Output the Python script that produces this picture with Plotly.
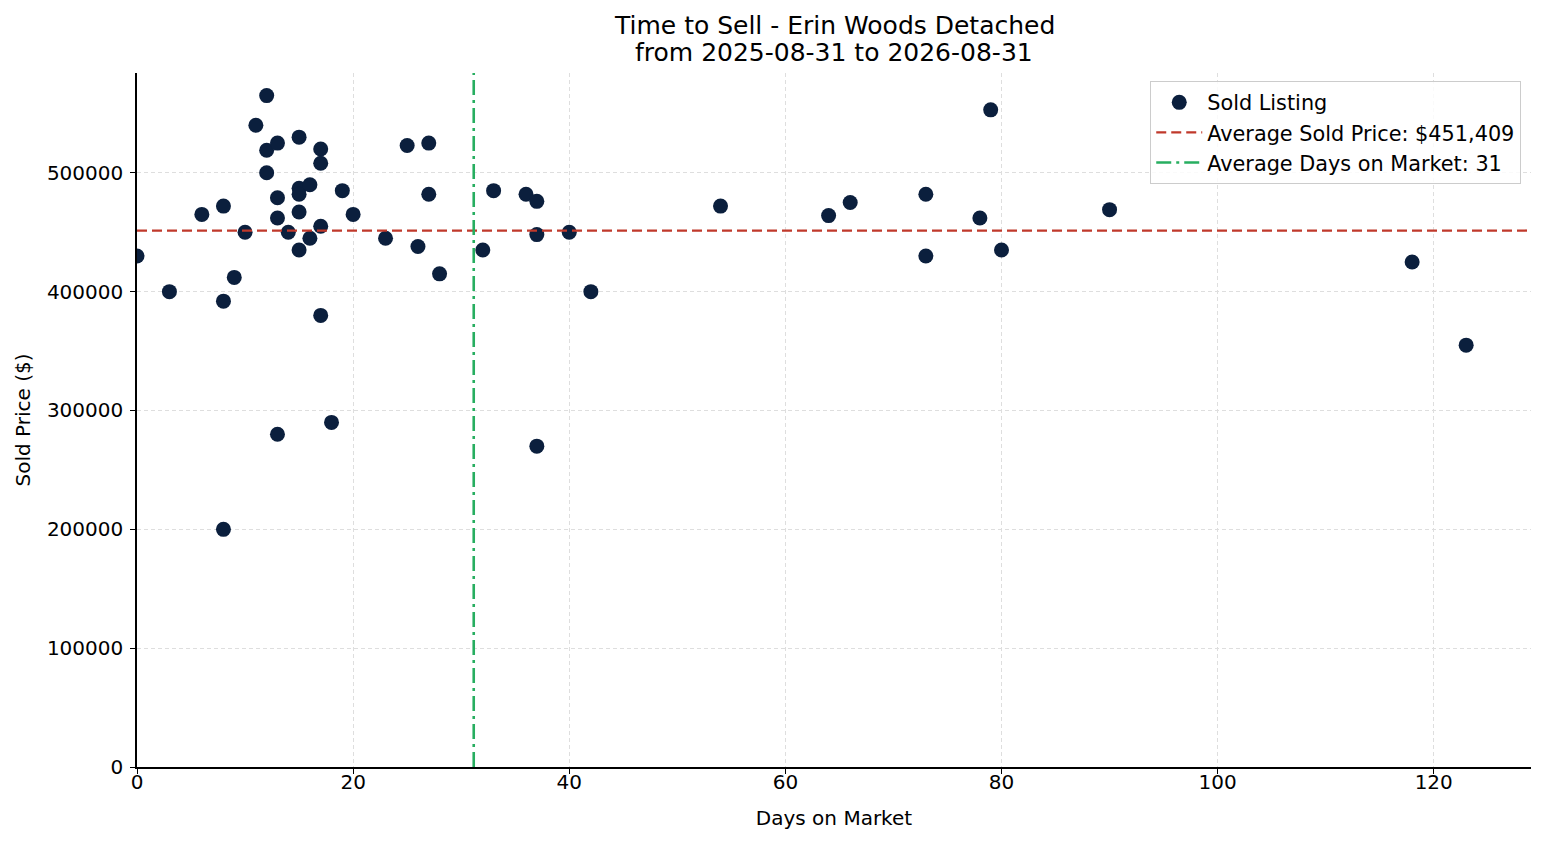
import numpy as np
import plotly.graph_objects as go

# days on market / sold price
days = [0, 3, 6, 8, 8, 8, 9, 10, 11, 12, 12, 12, 13, 13, 13, 13, 14,
        15, 15, 15, 15, 15, 16, 16, 17, 17, 17, 17, 18, 19, 20, 23, 25, 26,
        27, 27, 28, 32, 33, 36, 37, 37, 37, 40, 42, 54, 64, 66, 73, 73,
        78, 79, 80, 90, 118, 123]
prices = [430000, 400000, 465000, 472000, 392000, 200000, 412000, 450000, 540000,
          565000, 519000, 500000, 525000, 479000, 462000, 280000, 450000,
          530000, 487000, 482000, 467000, 435000, 490000, 445000,
          520000, 508000, 455000, 380000, 290000, 485000, 465000, 445000,
          523000, 438000, 525000, 482000, 415000, 435000, 485000, 482000,
          476000, 448000, 270000, 450000, 400000, 472000, 464000, 475000,
          482000, 430000, 462000, 553000, 435000, 469000, 425000, 355000]

avg_price = 451409
avg_days = np.mean(days)

x_range = [0, 129]
y_range = [0, 584000]

fig = go.Figure()

fig.add_trace(go.Scatter(
    x=days, y=prices, mode="markers", name="Sold Listing",
    marker=dict(color="#0b1f3d", size=15, line=dict(width=0)),
))

# average lines
fig.add_trace(go.Scatter(
    x=x_range, y=[avg_price, avg_price], mode="lines",
    name=f"Average Sold Price: ${avg_price:,}",
    line=dict(color="#c0392b", width=2.3, dash="10px,5px"),
))
fig.add_trace(go.Scatter(
    x=[avg_days, avg_days], y=y_range, mode="lines",
    name=f"Average Days on Market: {round(avg_days)}",
    line=dict(color="#27ae60", width=2.6, dash="15px,5px,3px,5px"),
))

axis_common = dict(
    showline=True, linecolor="black", linewidth=1.5,
    ticks="outside", ticklen=5, tickwidth=1.3, tickcolor="black",
    showgrid=True, gridcolor="#dedede", gridwidth=0.8, griddash="4px,3px",
    zeroline=False, tickfont=dict(size=20, color="black"),
)

fig.update_xaxes(range=x_range, dtick=20, ticklabelstandoff=-9,
                 title=dict(text="Days on Market", font=dict(size=20), standoff=18),
                 **axis_common)
fig.update_yaxes(range=y_range, dtick=100000, tickformat="d", ticklabelstandoff=3,
                 title=dict(text="Sold Price ($)", font=dict(size=20), standoff=11),
                 **axis_common)

# two-line title, placed by hand for tighter line spacing
fig.add_annotation(text="Time to Sell - Erin Woods Detached", xref="paper", yref="paper",
                   x=0.5, y=1.069, xanchor="center", yanchor="middle",
                   showarrow=False, font=dict(size=25, color="black"))
fig.add_annotation(text="from 2025-08-31 to 2026-08-31", xref="paper", yref="paper",
                   x=0.5, y=1.029, xanchor="center", yanchor="middle",
                   showarrow=False, font=dict(size=25, color="black"))

fig.update_layout(
    width=1539, height=837,
    margin=dict(l=129, r=16, t=65, b=78),
    plot_bgcolor="white", paper_bgcolor="white",
    font=dict(family="DejaVu Sans", color="black"),
    legend=dict(x=0.993, y=0.988, xanchor="right", yanchor="top",
                bgcolor="rgba(255,255,255,0.85)", bordercolor="#cccccc", borderwidth=1,
                itemwidth=46, font=dict(size=20.8)),
    showlegend=True,
)

fig.write_html("out.html")
